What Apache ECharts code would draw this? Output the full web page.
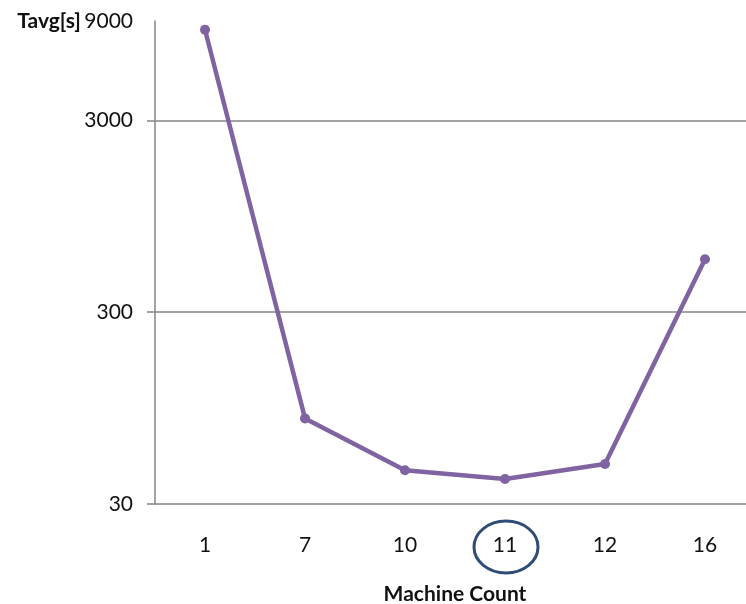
<!DOCTYPE html>
<html>
<head>
<meta charset="utf-8">
<script src="https://cdn.jsdelivr.net/npm/echarts@6/dist/echarts.min.js"></script>
<style>
  html, body { margin: 0; padding: 0; background: #ffffff; }
  #chart { width: 746px; height: 604px; }
</style>
</head>
<body>
<div id="chart"></div>
<script>
// Machine counts on the x axis and average run time (seconds) on a log y axis
const machineCounts = ['1', '7', '10', '11', '12', '16'];
const tavgSeconds = [9000, 84, 45, 40.5, 48.5, 570];
const yTopLabel = '9000';
const highlightedCount = '11';

const FONT = 'Lato';
const TEXT = '#111111';
const AXIS_GRAY = '#858585';

const chart = echarts.init(document.getElementById('chart'), null, { renderer: 'canvas' });

chart.setOption({
  animation: false,
  backgroundColor: '#ffffff',
  grid: { left: 155, top: 21, width: 600, bottom: 100, containLabel: false, outerBoundsMode: 'none' },
  xAxis: {
    type: 'category',
    data: machineCounts,
    boundaryGap: true,
    axisLine: { lineStyle: { color: AXIS_GRAY, width: 1.5 } },
    axisTick: { show: false },
    axisLabel: { color: TEXT, fontFamily: FONT, fontSize: 21, margin: 31 },
    name: 'Machine Count',
    nameLocation: 'middle',
    nameGap: 80,
    nameTextStyle: { color: TEXT, fontFamily: FONT, fontSize: 21, fontWeight: 'bold' }
  },
  yAxis: {
    type: 'log',
    logBase: 10,
    min: 30,
    max: 10000,
    interval: 1,
    axisLine: { show: true, lineStyle: { color: AXIS_GRAY, width: 1.5 } },
    axisTick: { show: true, length: 8, inside: false, lineStyle: { color: AXIS_GRAY, width: 1.5 } },
    axisLabel: {
      color: TEXT, fontFamily: FONT, fontSize: 21, margin: 22,
      showMaxLabel: false,
      formatter: v => String(Number(v.toPrecision(1)))
    },
    splitLine: { show: true, showMinLine: false, showMaxLine: false, lineStyle: { color: AXIS_GRAY, width: 1.5 } },
    name: '{t|Tavg[s]} {v|' + yTopLabel + '}',
    nameLocation: 'end',
    nameGap: 0,
    nameTextStyle: {
      align: 'right',
      verticalAlign: 'middle',
      padding: [0, 22, 0, 0],
      rich: {
        t: { fontFamily: FONT, fontSize: 21, fontWeight: 'bold', color: TEXT },
        v: { fontFamily: FONT, fontSize: 21, color: TEXT }
      }
    }
  },
  series: [{
    type: 'line',
    data: tavgSeconds,
    symbol: 'circle',
    symbolSize: 10,
    lineStyle: { color: '#8064a2', width: 4.5 },
    itemStyle: { color: '#8064a2' }
  }]
});

// Ring drawn around the highlighted machine-count label
const cx = chart.convertToPixel({ xAxisIndex: 0 }, highlightedCount);
const axisY = chart.convertToPixel({ yAxisIndex: 0 }, 30);
chart.setOption({
  graphic: [{
    type: 'ellipse',
    shape: { cx: cx + 1, cy: axisY + 43, rx: 32, ry: 26 },
    style: { fill: 'none', stroke: '#2f4c77', lineWidth: 3 },
    silent: true
  }]
});
</script>
</body>
</html>
